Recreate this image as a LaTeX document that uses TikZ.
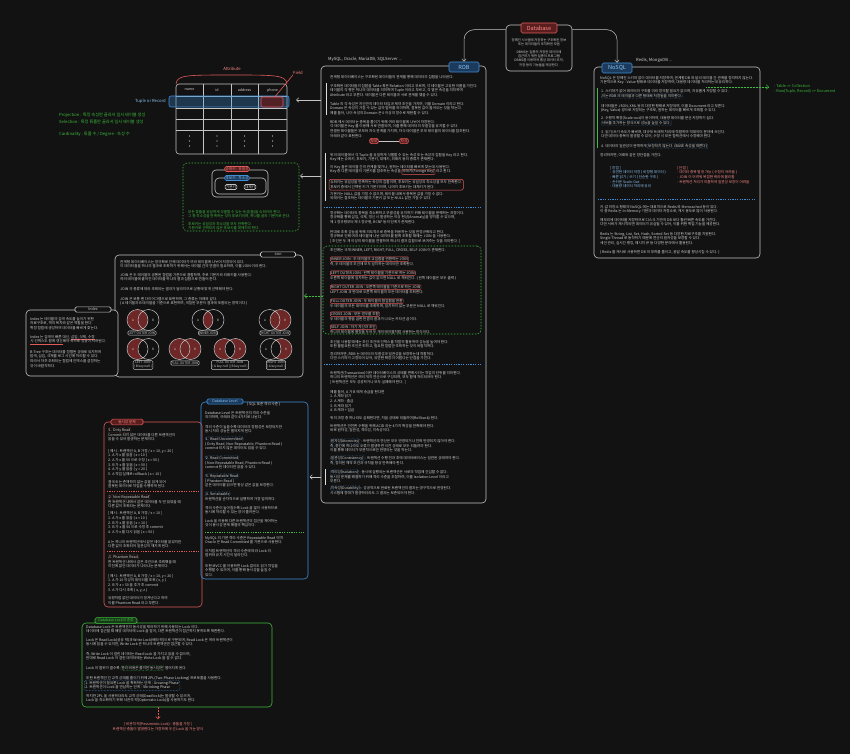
\documentclass[tikz,border=0pt]{standalone}
\usepackage{fontspec}
\setmainfont{Noto Sans CJK KR}
\usepackage{xcolor}
\usepackage{tikz}
\usetikzlibrary{arrows.meta}
\definecolor{canvasbg}{HTML}{121212}
\definecolor{inkgray}{HTML}{D2D2D2}
\definecolor{linegray}{HTML}{C4C4C4}
\definecolor{notered}{HTML}{E05A5A}
\definecolor{redfill}{HTML}{5A1E1E}
\definecolor{redtext}{HTML}{FF8A8A}
\definecolor{noteblue}{HTML}{3E8ED8}
\definecolor{bluefill}{HTML}{1B3A5C}
\definecolor{bluetext}{HTML}{8CC4F2}
\definecolor{notegreen}{HTML}{3DBB3D}
\definecolor{greenfill}{HTML}{183A18}
\definecolor{vennred}{HTML}{6E2727}

\newcommand{\txtsize}{\fontsize{3.6pt}{4.7pt}\selectfont}
\newcommand{\midsize}{\fontsize{4.2pt}{5.6pt}\selectfont}
\newcommand{\lblsize}{\fontsize{5.6pt}{6pt}\selectfont}
\newcommand{\tagsize}{\fontsize{3.2pt}{3.9pt}\selectfont}

\tikzset{hlbox/.style={anchor=base,inner sep=0.6pt,outer sep=0pt,rounded corners=0.8pt,line width=0.35pt,solid,fill=none}}
\newcommand{\hlred}[1]{\tikz[baseline]\node[hlbox,draw=notered]{#1};}
\newcommand{\hlreddot}[1]{\tikz[baseline]\node[hlbox,draw=notered,densely dotted]{#1};}
\newcommand{\hlblue}[1]{\tikz[baseline]\node[hlbox,draw=noteblue,densely dotted]{#1};}
\newcommand{\hlgreen}[1]{\tikz[baseline]\node[hlbox,draw=notegreen,densely dotted]{#1};}
\newcommand{\redul}[1]{\tikz[baseline]{\node[anchor=base,inner sep=0pt,outer sep=0pt] (ul) {#1};\draw[notered,line width=0.4pt] ([yshift=-0.7pt]ul.south west) -- ([yshift=-0.7pt]ul.south east);}}
\newcommand{\vennpair}[2]{\draw[vring] (#1-5.5,#2) circle[radius=10.5pt] (#1+5.5,#2) circle[radius=10.5pt];
  \node[vtag] at (#1-10,#2) {A}; \node[vtag] at (#1+10,#2) {B};}

\begin{document}
\begin{tikzpicture}[x=1pt,y=-1pt,
  panel/.style={draw=linegray,line width=0.6pt,rounded corners=4pt,inner sep=0pt},
  txt/.style={font=\txtsize,text=inkgray,align=left,anchor=north west,inner sep=0pt},
  ctxt/.style={font=\txtsize,text=inkgray,align=center,inner sep=0pt},
  gtxt/.style={txt,text=notegreen},
  redlbl/.style={draw=notered,fill=redfill,text=redtext,rounded corners=1.5pt,font=\lblsize,inner sep=1.2pt,line width=0.6pt},
  bluelbl/.style={draw=noteblue,fill=bluefill,text=bluetext,rounded corners=1.5pt,font=\lblsize,inner sep=1.2pt,line width=0.6pt},
  greenlbl/.style={draw=notegreen,fill=greenfill,text=notegreen,rounded corners=1.5pt,font=\txtsize,inner sep=1.2pt,line width=0.6pt},
  plainlbl/.style={draw=linegray,fill=canvasbg,text=inkgray,rounded corners=1.5pt,font=\txtsize,inner sep=1.2pt,line width=0.6pt},
  jtag/.style={draw=linegray,fill=canvasbg,text=inkgray,rounded corners=1pt,font=\tagsize,inner sep=0.8pt,align=center,line width=0.5pt},
  arr/.style={draw=linegray,line width=0.5pt,-{Straight Barb[length=2.5pt,width=4.5pt]}},
  conn/.style={arr,rounded corners=10pt},
  divider/.style={draw=noteblue,line width=0.5pt,dash pattern=on 1.2pt off 1.2pt},
  sidebar/.style={draw=linegray!60,line width=0.8pt},
  vring/.style={draw=linegray,line width=0.5pt},
  vtag/.style={font=\fontsize{3pt}{3pt}\selectfont,text=inkgray,inner sep=0pt}]
  \fill[canvasbg] (0,0) rectangle (850,754);
  \useasboundingbox (0,0) rectangle (850,754);

  \node[panel,minimum width=66pt,minimum height=46pt] (dbbox) at (539,48) {};
  \node[ctxt,font=\fontsize{3.3pt}{4.3pt}\selectfont] (dbnote) at (539,52.5) {정해진 시스템에 저장하는 구조화된 정보\\또는 데이터들의 조직화된 모음\\[3.5pt]DBMS는 일종의 저장된 데이터에\\접근하기 위한 일종의 프로그램\\DBMS를 이용하여 통상 데이터 조작,\\저장 등의 기능들을 제공한다.};
  \node[redlbl,minimum width=36pt,minimum height=10pt] (db) at (539,28) {Database};

  \node[panel,minimum width=165pt,minimum height=437pt] (rdbbox) at (403.5,284.5) {};
  \node[bluelbl,minimum width=30pt,minimum height=10pt] (rdb) at (464,67) {RDB};
  \node[panel,minimum width=166pt,minimum height=191pt] (nsqbox) at (677,162.5) {};
  \node[bluelbl,minimum width=30pt,minimum height=10pt] (nsql) at (617,68) {NoSQL};
  \draw[conn] ([yshift=-5pt]dbbox.north west) -| (rdb.north);
  \draw[conn] ([yshift=-5pt]dbbox.north east) -| (nsql.north);
  \node[txt,font=\midsize] (rdbsys) at (328,56.5) {MySQL, Oracle, MariaDB, SQLServer ...};
  \node[txt,font=\midsize] (nsqsys) at (636,57.5) {Redis, MongoDB ...};

  \node[txt] (r1) at (330,75) {관계형 데이터베이스는 구조화된 데이터들의 관계를 통해 데이터의 집합을 나타낸다.};
  \draw[sidebar] (326,83) -- (326,115);
  \node[txt] (r2) at (330,84) {구조화된 데이터들의 집합을 Table 혹은 Relation 이라고 부르며, 각 테이블은 고유한 이름을 가진다.\\테이블의 각 행은 하나의 데이터를 의미하며 Tuple 이라고 부르고, 각 열은 속성을 의미하며\\Attribute 라고 부른다. 테이블은 다른 테이블과 서로 관계를 맺을 수 있다.};
  \node[txt] (r3) at (330,102) {Table 의 각 속성은 자신만의 데이터 타입과 제약 조건을 가지며, 이를 Domain 이라고 한다.\\Domain 은 속성이 가질 수 있는 값의 범위를 의미하며, 잘못된 값이 들어오는 것을 막는다.\\예를 들어, 나이 속성의 Domain 은 0 이상의 정수로 제한할 수 있다.};
  \node[txt] (r4) at (330,120) {RDB 에서 데이터는 중복을 줄이기 위해 여러 테이블에 나뉘어 저장된다.\\각 테이블은 Key 를 이용해 서로 연결되며, 이를 통해 데이터의 무결성을 유지할 수 있다.\\연결된 테이블들은 부모와 자식 관계를 가지며, 자식 테이블은 부모 테이블의 데이터를 참조한다.\\아래와 같이 표현한다.};
  \node[redlbl,font=\txtsize,inner sep=1pt] (parent) at (374,141) {부모};
  \node[redlbl,font=\txtsize,inner sep=1pt] (child) at (404,141) {자식};
  \draw[linegray,line width=0.5pt] (parent) -- (child);
  \draw[sidebar] (325,153) -- (325,201);
  \node[txt] (r5) at (330,153) {위의 테이블에서 각 Tuple 을 유일하게 식별할 수 있는 속성 또는 속성의 집합을 Key 라고 한다.\\Key 에는 슈퍼키, 후보키, 기본키, 대체키, 외래키 등의 종류가 존재한다.};
  \node[txt] (r6) at (330,165) {이 Key 들은 테이블 간의 관계를 맺거나, 원하는 데이터를 빠르게 찾는데 사용된다.\\Key 중 다른 테이블의 기본키를 참조하는 속성을 \hlred{외래키(Foreign Key)} 라고 한다.};
  \node[txt,draw=notered,rounded corners=1.5pt,inner sep=1.2pt,line width=0.5pt] (keypar) at (328.8,179) {슈퍼키는 유일성을 만족하는 속성의 집합이며, 후보키는 유일성과 최소성을 모두 만족한다.\\후보키 중에서 선택된 키가 기본키이며, 나머지 후보키는 대체키가 된다.};
  \node[txt] (r7) at (330,192) {기본키는 NULL 값을 가질 수 없으며, 테이블 내에서 중복된 값을 가질 수 없다.\\외래키는 참조하는 테이블의 기본키 값 또는 NULL 값만 가질 수 있다.};
  \draw[divider] (324,207) -- (482,207);
  \node[txt] (r8) at (330,211) {정규화는 데이터의 중복을 최소화하고 무결성을 유지하기 위해 테이블을 분해하는 과정이다.\\정규화를 통해 삽입, 삭제, 갱신 시 발생하는 이상 현상(Anomaly)을 방지할 수 있으며,\\제 1 정규형부터 제 3 정규형, BCNF 등의 단계가 존재한다.};
  \node[txt] (r9) at (330,230) {반대로 조회 성능을 위해 의도적으로 중복을 허용하는 것을 반정규화라고 한다.\\정규화로 인해 여러 테이블에 나뉜 데이터를 함께 조회할 때에는 JOIN 을 사용한다.\\{}[ 조인은 두 개 이상의 테이블을 연결하여 하나의 결과 집합으로 보여주는 것을 의미한다. ]};
  \node[draw=notegreen,dash pattern=on 1.5pt off 1.5pt,line width=0.6pt,rounded corners=4pt,minimum width=158pt,minimum height=88pt,inner sep=0pt] (joingrp) at (402,290) {};
  \node[txt] (r10) at (330,248) {조인에는 크게 INNER, LEFT, RIGHT, FULL, CROSS, SELF JOIN 이 존재한다.};
  \node[txt] (j1) at (330,256.5) {\hlred{INNER JOIN : 두 테이블의 교집합을 반환하는 JOIN}\\즉, 두 테이블의 조건에 모두 일치하는 데이터만 조회한다.};
  \node[txt] (j2) at (330,270.5) {\hlred{LEFT OUTER JOIN : 왼쪽 테이블을 기준으로 하는 JOIN}\\오른쪽 테이블에 일치하는 값이 없으면 NULL 로 채워진다. ( 왼쪽 테이블은 모두 출력 )};
  \node[txt] (j3) at (330,284.5) {\hlred{RIGHT OUTER JOIN : 오른쪽 테이블을 기준으로 하는 JOIN}\\LEFT JOIN 과 반대로 오른쪽 테이블의 모든 데이터를 조회한다.};
  \node[txt] (j4) at (330,298.5) {\hlred{FULL OUTER JOIN : 두 테이블의 합집합을 반환}\\두 테이블의 모든 데이터를 조회하며, 일치하지 않는 부분은 NULL 로 채워진다.};
  \node[txt] (j5) at (330,311.5) {\hlred{CROSS JOIN : 모든 경우를 조합}\\두 테이블의 행을 곱한 만큼의 결과가 나오는 카티션 곱이다.};
  \node[txt] (j6) at (330,324.5) {\hlred{SELF JOIN : 자기 자신과 조인}\\하나의 테이블에 별칭을 두어 두 개의 테이블처럼 사용하는 방식이다.};
  \node[txt] (r11) at (330,340) {조인을 사용할 때에는 조인 조건에 인덱스를 적절히 활용하여 성능을 높여야 한다.\\또한 불필요한 조인은 피하고, 필요한 컬럼만 조회하는 것이 바람직하다.};
  \node[txt] (r12) at (330,352) {정리하자면, RDB 는 데이터의 무결성과 일관성을 보장하는데 적합하다.\\다만 스키마가 고정되어 있어, 유연한 확장이 어렵다는 단점을 가진다.};
  \draw[divider] (324,364.5) -- (482,364.5);
  \node[txt] (t1) at (330,371) {트랜잭션(Transaction)이란 데이터베이스의 상태를 변화시키는 작업의 단위를 의미한다.\\하나의 트랜잭션은 여러 개의 연산으로 구성되며, 모두 함께 처리되어야 한다.\\{}[ 트랜잭션은 모두 성공하거나 모두 실패해야 한다. ]};
  \node[txt] (t2) at (330,390) {예를 들어, A 가 B 에게 송금을 한다면\\1. A 계좌 읽기\\2. A 계좌 - 출금\\3. B 계좌 읽기\\4. B 계좌 + 입금};
  \node[txt] (t3) at (330,416) {위의 과정 중 하나라도 실패한다면, 처음 상태로 되돌려야(Rollback) 한다.};
  \node[txt] (t4) at (330,424) {트랜잭션은 안전한 수행을 위해 ACID 라는 4가지 특성을 만족해야 한다.\\바로 원자성, 일관성, 격리성, 지속성이다.};
  \node[txt] (acida) at (330,438.5) {\hlblue{원자성(Atomicity)} : 트랜잭션의 연산은 모두 반영되거나 전혀 반영되지 않아야 한다.\\즉, 중간에 하나라도 오류가 발생하면 이전 상태로 모두 되돌려야 한다.\\이를 통해 데이터가 부분적으로만 반영되는 것을 막는다.};
  \node[txt] (acidc) at (330,455.5) {\hlblue{일관성(Consistency)} : 트랜잭션 수행 전과 후에 데이터베이스는 일관된 상태여야 한다.\\즉, 정의된 제약 조건과 규칙을 항상 만족해야 한다.};
  \draw[sidebar] (325,469) -- (325,485);
  \node[txt] (acidi) at (330,469.5) {\hlblue{격리성(Isolation)} : 동시에 실행되는 트랜잭션은 서로의 작업에 간섭할 수 없다.\\동시성 문제를 해결하기 위해 격리 수준을 조절하며, 이를 Isolation Level 이라고\\부른다.};
  \node[txt] (acidd) at (330,485.5) {\hlblue{지속성(Durability)} : 성공적으로 완료된 트랜잭션의 결과는 영구적으로 반영된다.\\시스템에 장애가 발생하더라도 그 결과는 보존되어야 한다.};

  \node[txt] (n1) at (600,76) {NoSQL 은 정해진 스키마 없이 데이터를 저장하며, 관계형 DB 와 달리 테이블 간 관계를 정의하지 않는다.\\기본적으로 Key - Value 형태로 데이터를 저장하며, 대용량 데이터를 처리하는데 유리하다.};
  \draw[sidebar,notegreen] (597,88) -- (597,148);
  \node[txt] (n2) at (601,89.5) {1. 스키마가 없어 데이터의 구조를 미리 정의할 필요가 없으며, 자유롭게 저장할 수 있다.\\\hlblue{이는 RDB 의 테이블과 다른 형태로 저장됨을 의미한다.}};
  \node[txt] (n3) at (601,104) {데이터들은 JSON, XML 등의 다양한 형태로 저장되며, 이를 Document 라고 부른다.\\(Key, Value) 쌍으로 저장되는 구조로, 원하는 데이터를 빠르게 조회할 수 있다.};
  \node[txt] (n4) at (601,116.5) {2. 수평적 확장(Scale-out)이 용이하여, 대용량 데이터를 분산 저장하기 쉽다.\\\hlblue{서버를 추가하는 방식으로 성능을 높일 수 있다.}};
  \node[txt] (n5) at (601,130) {3. 읽기/쓰기 속도가 빠르며, 대규모 트래픽 처리에 적합하여 빅데이터 분야에 쓰인다.\\다만 데이터 중복이 발생할 수 있어, 수정 시 모든 컬렉션에서 수정해야 한다.};
  \node[txt] (n6) at (601,143.5) {4. 데이터의 일관성이 완벽하게 \hlblue{보장되지 않는다. (BASE 속성을 따른다)}};
  \node[txt] (n7) at (600,153) {정리하자면, 아래와 같은 장단점을 가진다.};
  \node[txt,text=bluetext] (pros) at (610,166) {[ 장점 ]\\- 유연한 데이터 저장 ( 비정형 데이터 )\\- 빠른 읽기 / 쓰기 ( 단순한 구조 )\\- 손쉬운 Scale-Out\\- 대용량 데이터 처리에 유리};
  \node[txt,text=redtext] (cons) at (677,166) {[ 단점 ]\\- 데이터 중복 발생 가능 ( 수정이 어려움 )\\- JOIN 이 어려워 복잡한 쿼리에 불리함\\- 트랜잭션 처리가 미흡하여 일관성 보장이 어려움};
  \draw[divider] (598,199) -- (755,199);
  \node[txt] (n8) at (600,205) {키-값 저장소 형태의 NoSQL 에는 대표적으로 Redis 와 Memcached 등이 있다.\\이 중 Redis 는 In-Memory 기반의 데이터 저장소로, 캐시 용도로 많이 사용된다.};
  \node[txt] (n9) at (600,218) {메모리에 데이터를 저장하므로 디스크 기반의 DB 보다 훨씬 빠른 속도를 가진다.\\다만 서버가 재시작되면 데이터가 유실될 수 있어, 이를 위한 백업 기능을 제공한다.};
  \node[txt] (n10) at (600,232) {Redis 는 String, List, Set, Hash, Sorted Set 등 다양한 자료구조를 지원한다.\\Single Thread 로 동작하기 때문에 연산의 원자성을 보장할 수 있다.\\세션 관리, 실시간 랭킹, 메시지 큐 등 다양한 분야에서 활용된다.};
  \node[txt] (n11) at (600,250) {( Redis 를 캐시로 사용하면 DB 의 부하를 줄이고, 응답 속도를 향상시킬 수 있다. )};
  \coordinate (docfrom) at (706,87);
  \node[gtxt,font=\fontsize{3.8pt}{4.8pt}\selectfont] (docnote) at (774,84.5) {- Table => Collection\\- Row(Tuple, Record) => Document};
  \draw[arr,notegreen,densely dotted] (docfrom) -- ([xshift=-5pt]docnote.west |- docfrom);

  \node[panel,rounded corners=3pt,minimum width=111pt,minimum height=70pt] (tbl) at (231.5,119) {};
  \draw[linegray,line width=0.5pt] (203,84) -- (203,154) (231,84) -- (231,154) (258,84) -- (258,154)
    (176,96) -- (287,96) (176,108) -- (287,108) (176,119) -- (287,119) (176,130) -- (287,130);
  \node[ctxt] (hname) at (189.5,90) {name};
  \node[ctxt] (hid) at (217,90) {id};
  \node[ctxt] (haddr) at (244.5,90) {address};
  \node[ctxt] (hphone) at (272.5,90) {phone};
  \foreach \cx in {189.5,217,244.5,272.5}
    \foreach \cy in {136,141,146}
      \fill[inkgray] (\cx,\cy) circle[radius=0.7pt];
  \node[draw=noteblue,fill=noteblue,fill opacity=0.3,rounded corners=2pt,line width=0.6pt,minimum width=120pt,minimum height=11pt,inner sep=0pt] (tuple) at (229,101.5) {};
  \node[draw=notered,fill=redfill,fill opacity=0.85,rounded corners=1.5pt,line width=0.6pt,minimum width=22pt,minimum height=10pt,inner sep=0pt] (fieldcell) at (272,102) {};
  \node[txt,anchor=east,text=bluetext,font=\midsize] (tuplelbl) at (166,101.5) {Tuple or Record};
  \node[txt,anchor=center,text=redtext,font=\midsize] (attrlbl) at (232,69) {Attribute};
  \draw[notered,line width=0.6pt] (176,84) .. controls (177,75) and (186,75) .. (231,75) .. controls (276,75) and (286,75) .. (287,84);
  \node[txt,anchor=center,text=redtext,font=\midsize] (fieldlbl) at (298,73) {Field};
  \draw[notered,line width=0.6pt] (fieldlbl.south west) -- ([xshift=3pt]fieldcell.north);
  \node[gtxt,anchor=west,font=\midsize] (proj) at (59,115) {Projection : 특정 속성만 골라서 임시 테이블 생성};
  \node[gtxt,anchor=west,font=\midsize] (sel) at (59,121.7) {Selection : 특정 튜플만 골라서 임시 테이블 생성};
  \node[gtxt,anchor=west,font=\midsize] (card) at (59,134) {Cardinality : 튜플 수 / Degree : 속성 수};
  \coordinate (tbltip) at (296,100);
  \draw[arr] (rdbbox.west |- tbltip) -- (tbltip);

  \node[draw=notegreen,dash pattern=on 1.5pt off 1.5pt,line width=0.6pt,rounded corners=4pt,minimum width=116pt,minimum height=68pt,inner sep=0pt] (keybox) at (241,197) {};
  \node[panel,minimum width=56pt,minimum height=27pt] (superset) at (240,183.5) {};
  \node[panel,minimum width=51pt,minimum height=16pt] (candset) at (240.5,186) {};
  \node[redlbl,font=\txtsize,inner sep=0.9pt] (superlbl) at (237,169) {슈퍼키 : 유일성};
  \node[bluelbl,font=\txtsize,inner sep=0.9pt] (candlbl) at (237,178) {후보키 : 최소성};
  \node[plainlbl,inner sep=0.9pt] (pklbl) at (231,187) {기본키};
  \node[plainlbl,inner sep=0.9pt] (aklbl) at (250,187) {대체키};
  \node[gtxt] (k1) at (188,210) {모든 튜플을 유일하게 식별할 수 있는 속성(들)을 슈퍼키라 한다.\\그 중 최소성을 만족하는 것이 후보키이며, 하나를 골라 기본키로 쓴다.};
  \node[gtxt] (k2) at (188,222) {후보키는 유일성과 최소성을 모두 만족한다.\\기본키로 선택되지 않은 후보키를 대체키라 한다.};
  \coordinate (keytip) at (300,176);
  \draw[arr] (rdbbox.west |- keytip) -- (keytip);

  \node[panel,minimum width=188pt,minimum height=122pt] (joinbox) at (209,316) {};
  \node[plainlbl,minimum width=35pt] (joinlbl) at (278,254.5) {Join};
  \node[txt] (ja) at (120,260) {관계형 데이터베이스는 정규화로 인해 데이터가 여러 테이블에 나뉘어 저장되어 있다.\\이 데이터들을 하나의 결과로 조회하기 위해서는 테이블 간의 연결이 필요하며, 이를 JOIN 이라 한다.};
  \node[txt] (jb) at (120,273) {JOIN 은 두 테이블의 공통된 컬럼을 기준으로 결합하며, 주로 기본키와 외래키를 사용한다.\\여러 테이블에 흩어진 데이터를 하나의 결과 집합으로 만들어 준다.};
  \node[txt] (jc) at (120,287) {JOIN 의 종류에 따라 조회되는 결과가 달라지므로 상황에 맞게 선택해야 한다.};
  \node[txt] (jd) at (120,297) {JOIN 은 보통 벤 다이어그램으로 표현하며, 그 종류는 아래와 같다.\\( A 테이블과 B 테이블을 기준으로 표현하며, 색칠된 부분이 결과에 포함되는 영역이다 )};
  \fill[vennred] (137.5,320) circle[radius=10.5pt];
  \vennpair{143}{320}
  \begin{scope}
    \clip (202.5,320) circle[radius=10.5pt];
    \fill[vennred] (213.5,320) circle[radius=10.5pt];
  \end{scope}
  \vennpair{208}{320}
  \fill[vennred] (280.5,320) circle[radius=10.5pt];
  \vennpair{275}{320}
  \fill[vennred] (137.5,349) circle[radius=10.5pt];
  \begin{scope}
    \clip (137.5,349) circle[radius=10.5pt];
    \fill[canvasbg] (148.5,349) circle[radius=10.5pt];
  \end{scope}
  \vennpair{143}{349}
  \fill[vennred] (179.5,349) circle[radius=10.5pt] (190.5,349) circle[radius=10.5pt];
  \vennpair{185}{349}
  \fill[vennred] (224.5,349) circle[radius=10.5pt] (235.5,349) circle[radius=10.5pt];
  \begin{scope}
    \clip (224.5,349) circle[radius=10.5pt];
    \fill[canvasbg] (235.5,349) circle[radius=10.5pt];
  \end{scope}
  \vennpair{230}{349}
  \fill[vennred] (281.5,349) circle[radius=10.5pt];
  \begin{scope}
    \clip (281.5,349) circle[radius=10.5pt];
    \fill[canvasbg] (270.5,349) circle[radius=10.5pt];
  \end{scope}
  \vennpair{276}{349}
  \node[jtag] (vlo) at (142,333) {LEFT OUTER JOIN};
  \node[jtag] (vin) at (208,333) {INNER JOIN};
  \node[jtag] (vro) at (275,333) {RIGHT OUTER JOIN};
  \node[jtag] (vlx) at (143,365) {LEFT JOIN\\( B key null )};
  \node[jtag] (vfo) at (185,363) {FULL OUTER JOIN};
  \node[jtag] (vfx) at (230,365) {FULL OUTER JOIN\\( A key null || B key null )};
  \node[jtag] (vrx) at (276,365) {RIGHT JOIN\\( A key null )};
  \coordinate (jointip) at (304,296);
  \draw[arr,notegreen,dash pattern=on 1.5pt off 1.5pt] (joingrp.west |- jointip) -- (jointip);

  \node[panel,fill=canvasbg,minimum width=92pt,minimum height=66pt] (idxbox) at (72,343) {};
  \node[plainlbl,minimum width=36pt] (idxlbl) at (93,309.5) {Index};
  \node[txt] (ia) at (30,317) {Index 는 테이블의 검색 속도를 높이기 위한\\자료구조로, 책의 목차와 같은 역할을 한다.\\특정 컬럼에 생성하여 데이터를 빠르게 찾는다.};
  \node[txt] (ib) at (30,335) {Index 는 검색이 빠른 대신, \redul{삽입, 삭제, 수정}\\\redul{시 인덱스도 함께 갱신}해야 하므로 성능이 저하된다.};
  \node[txt] (ic) at (30,350) {B-Tree 구조는 데이터를 정렬된 상태로 유지하여\\탐색, 삽입, 삭제를 로그 시간에 처리할 수 있다.\\따라서 자주 조회되는 컬럼에 인덱스를 설정하는\\것이 바람직하다.};

  \node[panel,draw=notered,minimum width=98pt,minimum height=185pt] (anombox) at (153,514.5) {};
  \node[redlbl,font=\txtsize,minimum width=32pt] (anomlbl) at (127,422) {동시성 문제};
  \node[txt] (an1) at (108,427.5) {\hlreddot{1. Dirty Read}\\Commit 되지 않은 데이터를 다른 트랜잭션이\\읽을 수 있어 발생하는 문제이다.};
  \node[txt] (an2) at (108,449) {[ 예시 : 트랜잭션 A, B 가정 / x = 10, y = 20 ]\\1. A 가 x 를 읽음 ( x = 10 )\\2. A 가 x 를 50 으로 수정 ( x = 50 )\\3. B 가 x 를 읽음 ( x = 50 )\\4. A 가 y 를 읽음 ( y = 20 )\\5. A 작업 실패로 rollback ( x = 10 )};
  \node[txt] (an3) at (108,480) {결국 B 는 존재하지 않는 값을 읽게 되어\\잘못된 데이터로 작업을 수행하게 된다.};
  \draw[divider,notered] (107,491.5) -- (199,491.5);
  \node[txt] (an4) at (108,494.5) {\hlreddot{2. Non-Repeatable Read}\\한 트랜잭션 내에서 같은 데이터를 두 번 읽었을 때\\다른 값이 조회되는 문제이다.};
  \node[txt] (an5) at (108,511.5) {[ 예시 : 트랜잭션 A, B 가정 / x = 10 ]\\1. A 가 x 를 읽음 ( x = 10 )\\2. B 가 x 를 읽음 ( x = 10 )\\3. B 가 x 를 50 으로 수정 후 commit\\4. A 가 x 를 다시 읽음 ( x = 50 )};
  \node[txt] (an6) at (108,540) {A 는 하나의 트랜잭션에서 같은 데이터를 읽었지만\\다른 값이 조회되어 일관성이 깨지게 된다.};
  \draw[divider,notered] (107,551) -- (199,551);
  \node[txt] (an7) at (108,554.5) {\hlreddot{3. Phantom Read}\\한 트랜잭션 내에서 같은 조건으로 조회했을 때\\이전에 없던 데이터가 나타나는 문제이다.};
  \node[txt] (an8) at (108,574) {[ 예시 : 트랜잭션 A, B 가정 / x = 10, y = 20 ]\\1. A 가 10 이상의 데이터를 조회 ( x, y )\\2. B 가 z = 30 을 추가 후 commit\\3. A 가 다시 조회 ( x, y, z )};
  \node[txt] (an9) at (108,596.5) {유령처럼 없던 데이터가 생겨난다고 하여\\이를 Phantom Read 라고 부른다.};

  \node[panel,draw=noteblue,minimum width=107pt,minimum height=177pt] (lvlbox) at (254.5,490.5) {};
  \node[bluelbl,font=\txtsize,minimum width=36pt] (lvllbl) at (225,401.5) {Database Level};
  \node[txt] (lvlside) at (247,402.5) {( SQL 표준 격리 수준 )};
  \node[txt] (l1) at (205,411) {Database Level 은 트랜잭션의 격리 수준을\\의미하며, 아래와 같이 4가지로 나뉜다.};
  \node[txt] (l2) at (205,425) {격리 수준이 높을수록 데이터의 정합성은 보장되지만\\동시 처리 성능은 떨어지게 된다.};
  \node[txt] (l3) at (205,436.5) {\hlblue{1. Read Uncommitted}\\( Dirty Read, Non-Repeatable, Phantom Read )\\commit 되지 않은 데이터도 읽을 수 있다.};
  \node[txt] (l4) at (205,455.5) {\hlblue{2. Read Committed}\\( Non-Repeatable Read, Phantom Read )\\commit 된 데이터만 읽을 수 있다.};
  \node[txt] (l5) at (205,473.5) {\hlblue{3. Repeatable Read}\\( Phantom Read )\\같은 데이터를 읽으면 항상 같은 값을 보장한다.};
  \node[txt] (l6) at (205,491.5) {\hlblue{4. Serializable}\\트랜잭션을 순차적으로 실행하여 가장 엄격하다.};
  \node[txt] (l7) at (205,506) {격리 수준이 높아질수록 Lock 을 많이 사용하므로\\동시에 처리할 수 있는 양이 줄어든다.};
  \node[txt] (l8) at (205,519) {Lock 을 이용해 다른 트랜잭션의 접근을 제어하는\\것이 동시성 문제 해결의 핵심이다.};
  \draw[divider,notegreen] (205,532) -- (304,532);
  \node[txt] (l9) at (205,536) {MySQL 의 기본 격리 수준은 Repeatable Read 이며\\Oracle 은 Read Committed 를 기본으로 사용한다.};
  \node[txt] (l10) at (205,549) {이처럼 트랜잭션의 격리 수준에 따라 Lock 의\\범위와 유지 시간이 달라진다.};
  \node[txt] (l11) at (205,564) {또한 MVCC 를 이용하면 Lock 없이도 읽기 작업을\\수행할 수 있으며, 이를 통해 동시성을 높일 수\\있다.};
  \coordinate (lvltip) at (309.5,477);
  \draw[arr] (rdbbox.west |- lvltip) -- (lvltip);

  \node[panel,draw=notegreen,minimum width=190pt,minimum height=84pt] (lockbox) at (177,665) {};
  \node[greenlbl,minimum width=42pt] (locklbl) at (116,620.5) {Database Lock의 종류};
  \node[txt] (k01) at (86,625) {Database Lock 은 트랜잭션의 동시성을 제어하기 위해 사용되는 Lock 이다.\\데이터에 접근할 때 해당 데이터에 Lock 을 걸어, 다른 트랜잭션이 접근하지 못하도록 제한한다.};
  \node[txt] (k02) at (86,638) {Lock 은 Read Lock(공유 락)과 Write Lock(배타 락)으로 구분되며, Read Lock 은 여러 트랜잭션이\\동시에 읽을 수 있지만, Write Lock 은 하나의 트랜잭션만 접근할 수 있다.};
  \node[txt] (k03) at (86,652) {즉, Write Lock 이 걸린 데이터는 Read Lock 을 가지고 읽을 수 없으며,\\반대로 Read Lock 이 걸린 데이터에는 Write Lock 을 걸 수 없다.};
  \node[txt] (k04) at (86,665.5) {Lock 의 범위가 클수록 \hlgreen{관리 비용은 줄지만 동시성은} 떨어지게 된다.};
  \node[txt] (k05) at (86,676) {또한 트랜잭션 간 교착 상태를 줄이기 위해 2PL(Two-Phase Locking) 프로토콜을 사용한다.};
  \node[txt,draw=noteblue,densely dotted,rounded corners=1.5pt,inner sep=1pt,line width=0.5pt] (phase) at (84,679.8) {1. 트랜잭션이 필요한 Lock 을 획득하는 단계 : Growing Phase\\2. 트랜잭션이 Lock 을 반납하는 단계 : Shrinking Phase};
  \node[txt] (k06) at (86,694) {하지만 2PL 을 사용하더라도 교착 상태(Deadlock)는 발생할 수 있으며,\\Lock 을 최소화하기 위해 낙관적 락(Optimistic Lock)을 사용하기도 한다.};
  \node[ctxt,text=redtext] (pess) at (158,726.5) {[ 비관적 락(Pessimistic Lock) : 충돌을 가정 ]\\트랜잭션 충돌이 발생한다는 가정하에 우선 Lock 을 거는 방식};
  \draw[arr,notered,dash pattern=on 1.5pt off 1.5pt] (lockbox.south -| pess) -- ([yshift=3pt]pess.north);
\end{tikzpicture}
\end{document}
